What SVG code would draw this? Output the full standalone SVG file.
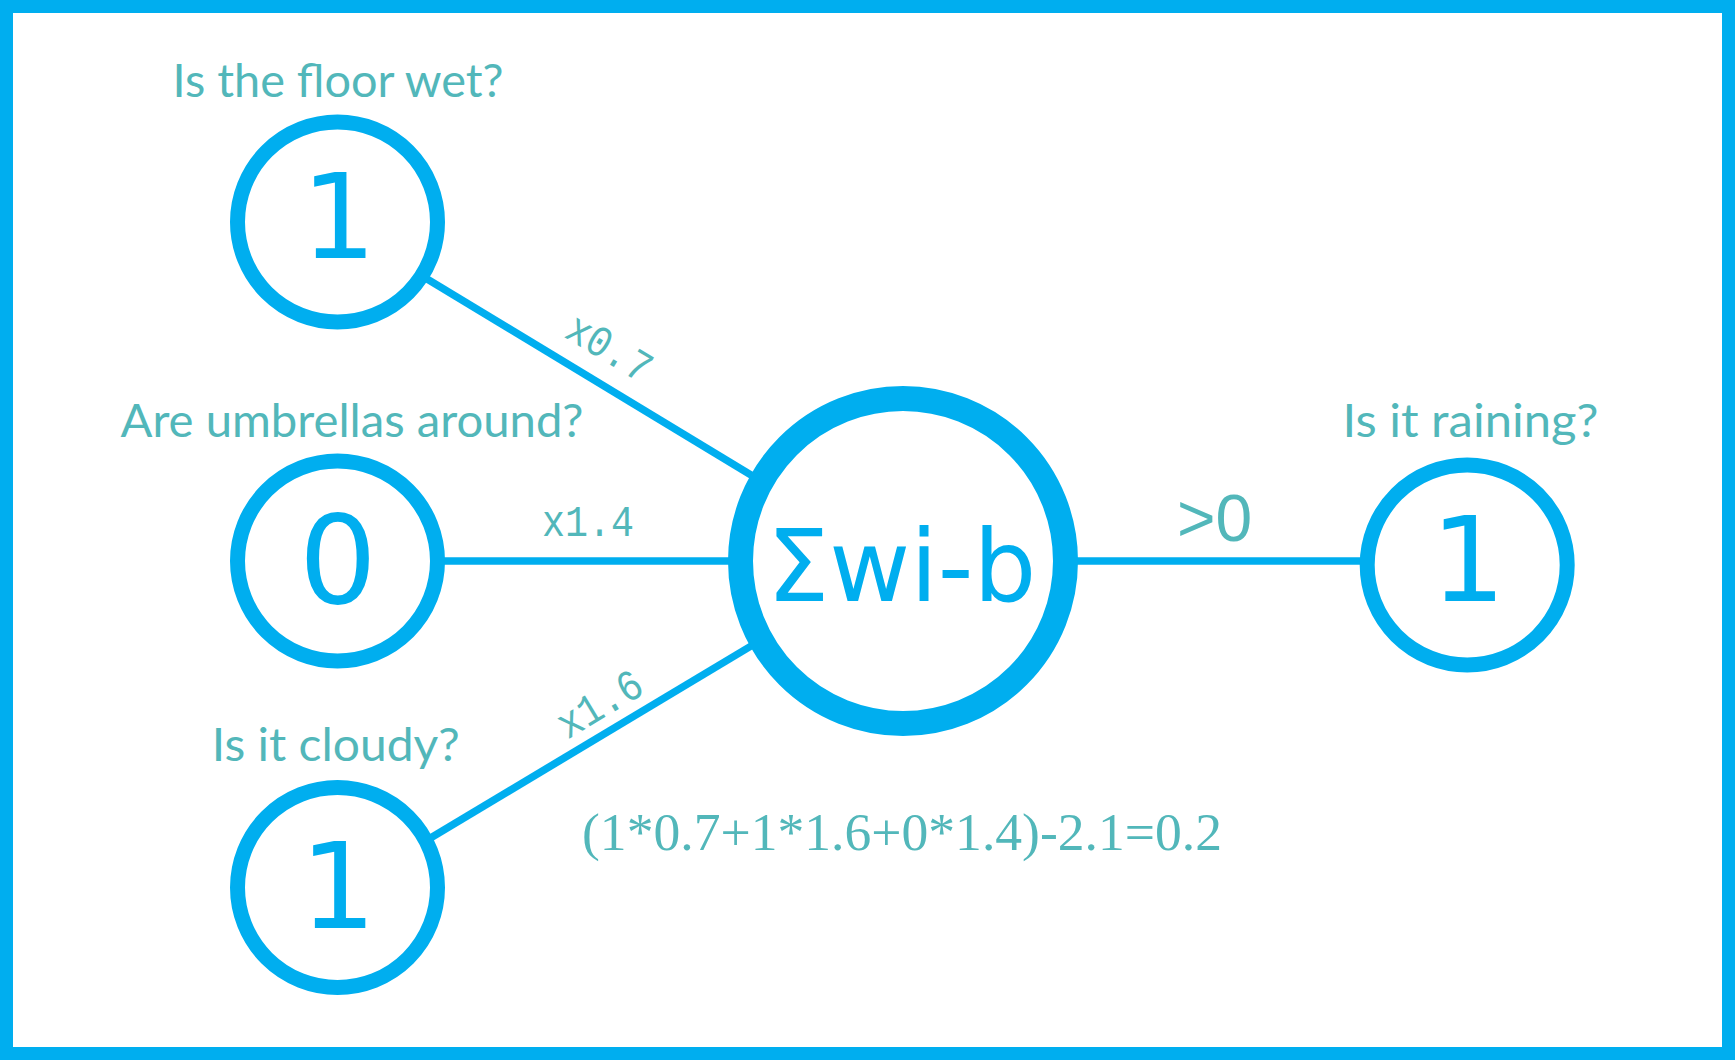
<svg xmlns="http://www.w3.org/2000/svg" width="1735" height="1060" viewBox="0 0 1735 1060">
<style>
.frame{fill:#fff;stroke:#00AEEF;stroke-width:13}
.edge{stroke:#00AEEF;stroke-width:7.5;fill:none}
.node{fill:#fff;stroke:#00AEEF;stroke-width:15}
.big{fill:#fff;stroke:#00AEEF;stroke-width:25}
.val{font-family:"DejaVu Sans",sans-serif;fill:#00AEEF;text-anchor:middle}
.q{font-family:Lato,"Open Sans",sans-serif;font-weight:400;font-size:47px;fill:#52B7BA;text-anchor:middle}
.w{font-family:"Liberation Mono",monospace;font-size:44px;fill:#52B7BA;text-anchor:middle}
.eq{font-family:"Liberation Serif",serif;font-size:53px;fill:#52B7BA}
</style>
<rect class="frame" x="6.5" y="6.5" width="1722" height="1047"/>
<g id="connectors">
<line class="edge" x1="337" y1="224.5" x2="903" y2="567"/>
<line class="edge" x1="337" y1="561" x2="1467" y2="561"/>
<line class="edge" x1="337" y1="894" x2="903" y2="555"/>
<text class="w" transform="translate(602,360) rotate(31.2)" textLength="92" lengthAdjust="spacingAndGlyphs">x0.7</text>
<text class="w" x="588" y="535.7" textLength="92" lengthAdjust="spacingAndGlyphs">x1.4</text>
<text class="w" transform="translate(607,716) rotate(-31)" textLength="92" lengthAdjust="spacingAndGlyphs">x1.6</text>
<text x="1214.5" y="541" style="font-family:'Liberation Sans',sans-serif;font-size:66px;fill:#52B7BA;text-anchor:middle">&gt;0</text>
</g>
<g id="floor">
<text class="q" x="338" y="96.7" textLength="331" lengthAdjust="spacingAndGlyphs">Is the floor wet?</text>
<circle class="node" cx="337.5" cy="222" r="100"/>
<text class="val" x="338.7" y="257.7" font-size="118">1</text>
</g>
<g id="umbrellas">
<text class="q" x="352" y="436.7" textLength="463" lengthAdjust="spacingAndGlyphs">Are umbrellas around?</text>
<circle class="node" cx="337.5" cy="561" r="100"/>
<text class="val" x="337.8" y="603.3" font-size="123">0</text>
</g>
<g id="cloudy">
<text class="q" x="335.8" y="761" textLength="248" lengthAdjust="spacingAndGlyphs">Is it cloudy?</text>
<circle class="node" cx="337.5" cy="887.5" r="100"/>
<text class="val" x="338.3" y="927.7" font-size="120">1</text>
</g>
<g id="sum">
<circle class="big" cx="903" cy="561" r="162.5"/>
<text class="val" x="901.5" y="601" font-size="99">Σwi-b</text>
<text class="eq" x="582" y="850" textLength="640" lengthAdjust="spacingAndGlyphs">(1*0.7+1*1.6+0*1.4)-2.1=0.2</text>
</g>
<g id="raining">
<text class="q" x="1470.5" y="436.7" textLength="256" lengthAdjust="spacingAndGlyphs">Is it raining?</text>
<circle class="node" cx="1467.2" cy="565" r="100"/>
<text class="val" x="1468.3" y="600.7" font-size="118">1</text>
</g>
</svg>
